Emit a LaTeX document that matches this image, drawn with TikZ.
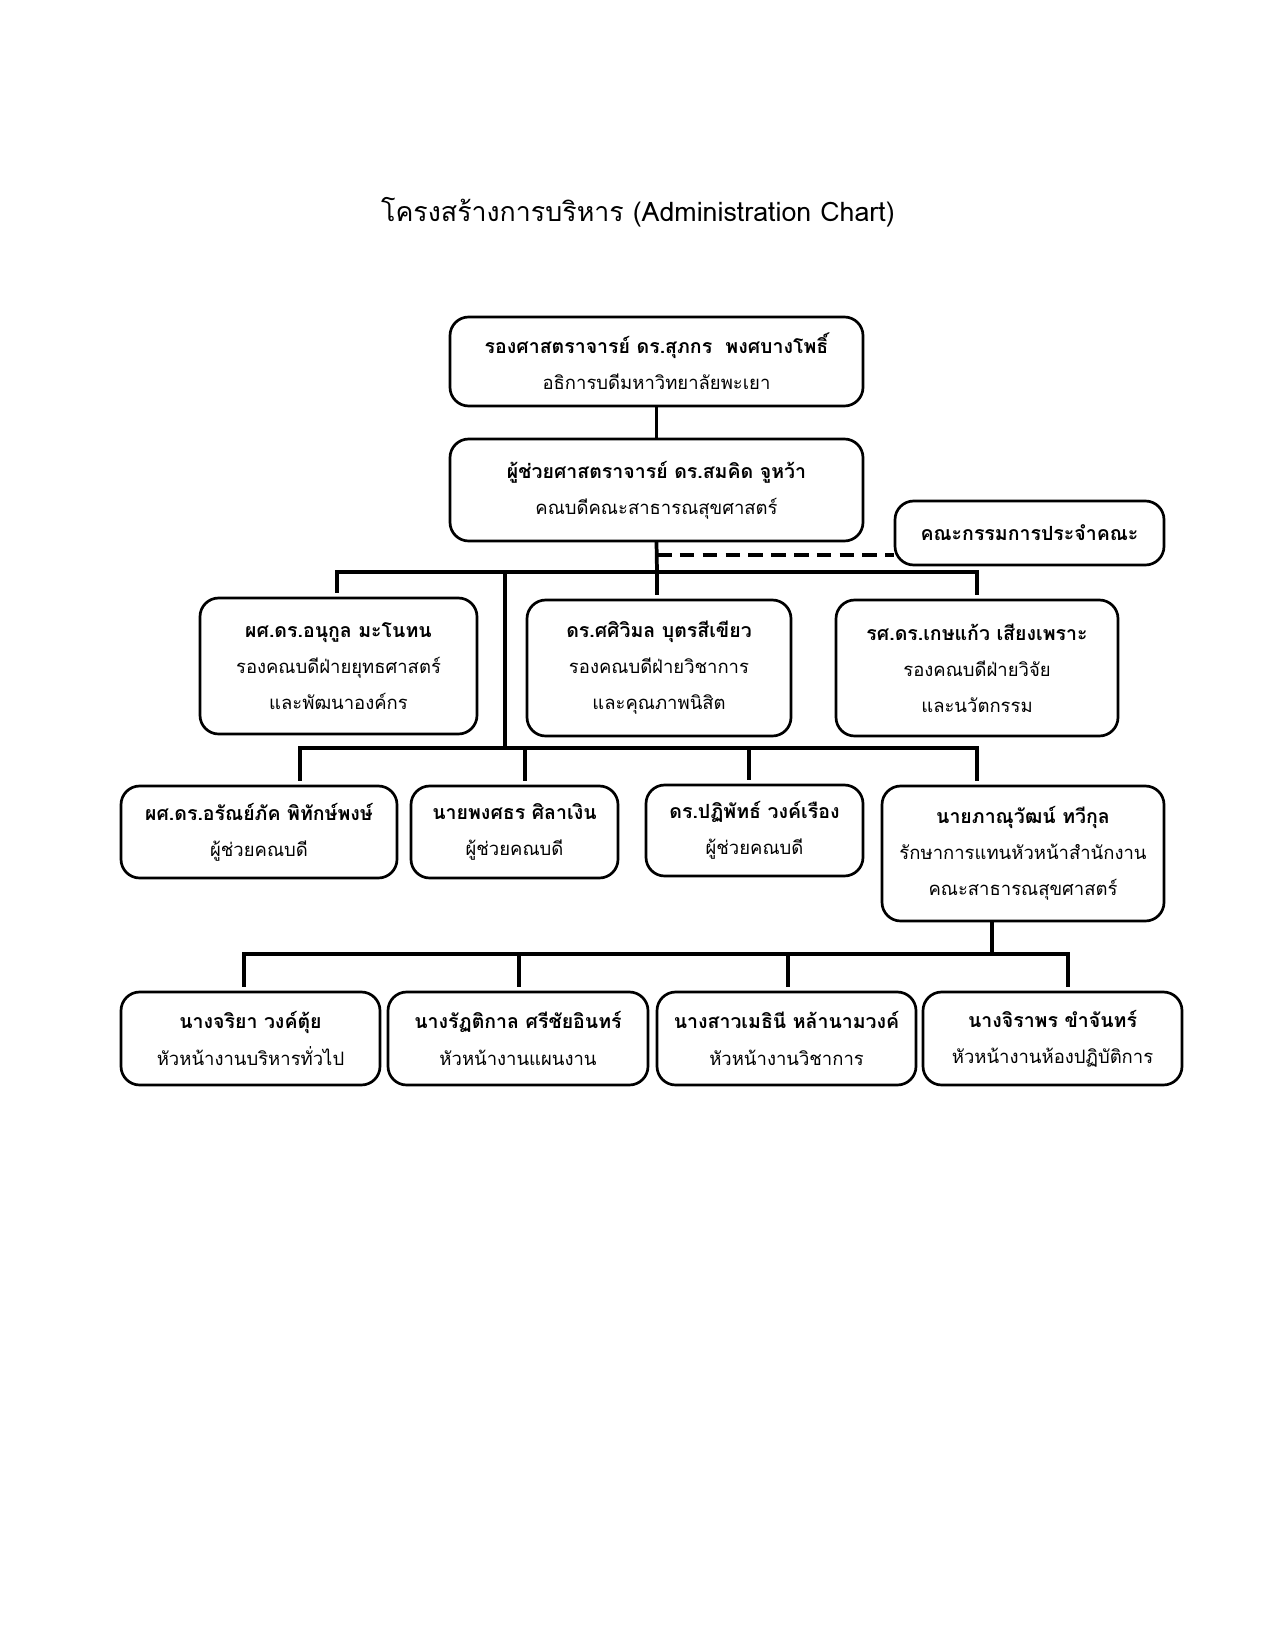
\documentclass[tikz,border=0pt]{standalone}
\usepackage{fontspec}
\usetikzlibrary{calc}
\newfontfamily\thai[Script=Thai]{Loma}
\newcommand\nm[1]{{\fontsize{9.4}{17.4}\selectfont\bfseries #1}}
\begin{document}
\begin{tikzpicture}[x=0.4818pt,y=-0.4818pt,
  orgbox/.style={draw=black,line width=1.3pt,rounded corners=9pt,align=center,inner sep=0pt,
     font=\thai\fontsize{8.9}{17.4}\selectfont},
  conn/.style={line width=1.8pt,line cap=rect},
  dconn/.style={line width=1.8pt,dash pattern=on 7pt off 4pt}]
\useasboundingbox[fill=white] (0,0) rectangle (1275,1650);
\node[font=\thai\fontsize{12.9}{16}\selectfont] (title) at (638,212) {โครงสร้างการบริหาร (Administration Chart)};
\node[orgbox,minimum width=413*0.4818pt,minimum height=89*0.4818pt] (top) at (656.5,361.5)
  {\nm{รองศาสตราจารย์ ดร.สุภกร\ \ พงศบางโพธิ์}\\อธิการบดีมหาวิทยาลัยพะเยา};
\node[orgbox,minimum width=413*0.4818pt,minimum height=102*0.4818pt] (dean) at (656.5,490)
  {\nm{ผู้ช่วยศาสตราจารย์ ดร.สมคิด จูหว้า}\\คณบดีคณะสาธารณสุขศาสตร์};
\node[orgbox,minimum width=269*0.4818pt,minimum height=64*0.4818pt] (comm) at (1029.5,533)
  {\nm{คณะกรรมการประจำคณะ}};
\node[orgbox,minimum width=277*0.4818pt,minimum height=136*0.4818pt] (a) at (338.5,666)
  {\nm{ผศ.ดร.อนุกูล มะโนทน}\\รองคณบดีฝ่ายยุทธศาสตร์\\และพัฒนาองค์กร};
\node[orgbox,minimum width=264*0.4818pt,minimum height=136*0.4818pt] (b) at (659,668)
  {\nm{ดร.ศศิวิมล บุตรสีเขียว}\\รองคณบดีฝ่ายวิชาการ\\และคุณภาพนิสิต};
\node[orgbox,minimum width=282*0.4818pt,minimum height=136*0.4818pt] (c) at (977,668)
  {\nm{รศ.ดร.เกษแก้ว เสียงเพราะ}\\รองคณบดีฝ่ายวิจัย\\และนวัตกรรม};
\node[orgbox,minimum width=276*0.4818pt,minimum height=92*0.4818pt] (d) at (259,832)
  {\nm{ผศ.ดร.อรัณย์ภัค พิทักษ์พงษ์}\\ผู้ช่วยคณบดี};
\node[orgbox,minimum width=207*0.4818pt,minimum height=92*0.4818pt] (e) at (514.5,832)
  {\nm{นายพงศธร ศิลาเงิน}\\ผู้ช่วยคณบดี};
\node[orgbox,minimum width=217*0.4818pt,minimum height=91*0.4818pt] (f) at (754.5,830.5)
  {\nm{ดร.ปฏิพัทธ์ วงค์เรือง}\\ผู้ช่วยคณบดี};
\node[orgbox,minimum width=282*0.4818pt,minimum height=135*0.4818pt] (g) at (1023,853.5)
  {\nm{นายภาณุวัฒน์ ทวีกุล}\\รักษาการแทนหัวหน้าสำนักงาน\\คณะสาธารณสุขศาสตร์};
\node[orgbox,minimum width=259*0.4818pt,minimum height=93*0.4818pt] (h) at (250.5,1038.5)
  {\nm{นางจริยา วงค์ตุ้ย}\\หัวหน้างานบริหารทั่วไป};
\node[orgbox,minimum width=260*0.4818pt,minimum height=93*0.4818pt] (i) at (518,1038.5)
  {\nm{นางรัฏติกาล ศรีชัยอินทร์}\\หัวหน้างานแผนงาน};
\node[orgbox,minimum width=259*0.4818pt,minimum height=93*0.4818pt] (j) at (786.5,1038.5)
  {\nm{นางสาวเมธินี หล้านามวงค์}\\หัวหน้างานวิชาการ};
\node[orgbox,minimum width=259*0.4818pt,minimum height=93*0.4818pt] (k) at (1052.5,1038.5)
  {\nm{นางจิราพร ขำจันทร์}\\หัวหน้างานห้องปฏิบัติการ};
% junction coordinates
\coordinate (b1l) at (337,572);
\coordinate (b1r) at (977,572);
\coordinate (b1m) at (657,572);
\coordinate (tr1) at (505,572);
\coordinate (b2l) at (300,748);
\coordinate (b2r) at (977,748);
\coordinate (tr2) at (505,748);
\coordinate (b2e) at (525,748);
\coordinate (b2f) at (749,748);
\coordinate (dsh) at (657,555);
\coordinate (gb) at (992,954);
\coordinate (b3l) at (244,954);
\coordinate (b3r) at (1068,954);
\coordinate (b3i) at (519,954);
\coordinate (b3j) at (788,954);
% connectors
\draw[conn] (top.south) -- (dean.north);
\draw[conn] (dean.south) -- (b1m);
\draw[dconn] (dsh) -- (dsh -| comm.west);
\draw[conn] (b1l) -- (b1r);
\draw[conn] (b1l) -- ([yshift=2.5pt]b1l |- a.north);
\draw[conn] (b1m) -- ([yshift=2.5pt]b1m |- b.north);
\draw[conn] (b1r) -- ([yshift=2.5pt]b1r |- c.north);
\draw[conn] (tr1) -- (tr2);
\draw[conn] (b2l) -- (b2r);
\draw[conn] (b2l) -- ([yshift=2.5pt]b2l |- d.north);
\draw[conn] (b2e) -- ([yshift=2.5pt]b2e |- e.north);
\draw[conn] (b2f) -- ([yshift=2.5pt]b2f |- f.north);
\draw[conn] (b2r) -- ([yshift=2.5pt]b2r |- g.north);
\draw[conn] (g.south -| gb) -- (gb);
\draw[conn] (b3l) -- (b3r);
\draw[conn] (b3l) -- ([yshift=2.5pt]b3l |- h.north);
\draw[conn] (b3i) -- ([yshift=2.5pt]b3i |- i.north);
\draw[conn] (b3j) -- ([yshift=2.5pt]b3j |- j.north);
\draw[conn] (b3r) -- ([yshift=2.5pt]b3r |- k.north);
\end{tikzpicture}
\end{document}
